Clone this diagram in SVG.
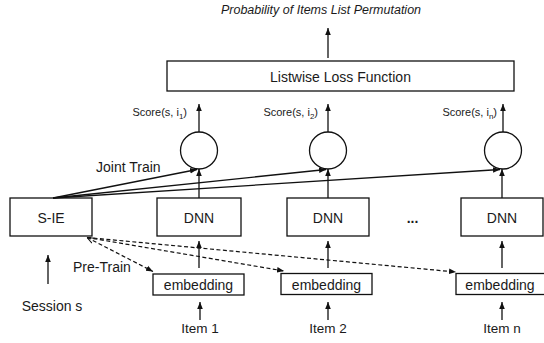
<svg xmlns="http://www.w3.org/2000/svg" width="544" height="343" viewBox="0 0 544 343">
<style>
text{font-family:"Liberation Sans",Arial,sans-serif;fill:#1a1a1a}
.box{fill:#fff;stroke:#111;stroke-width:1.3}
.ln{stroke:#111;stroke-width:1.3;fill:none}
.dash{stroke:#111;stroke-width:1.2;fill:none;stroke-dasharray:4 2.5}
.lbl{font-size:14px}
.sc{font-size:11px}
</style>
<defs>
<marker id="ah" viewBox="0 0 8 8" refX="8" refY="4" markerWidth="7" markerHeight="7" markerUnits="userSpaceOnUse" orient="auto">
<path d="M0,0.8 L8,4 L0,7.2 z" fill="#111"/>
</marker>
<marker id="ahs" viewBox="0 0 8 8" refX="0" refY="4" markerWidth="7" markerHeight="7" markerUnits="userSpaceOnUse" orient="auto">
<path d="M8,0.8 L0,4 L8,7.2" fill="none" stroke="#111" stroke-width="1.2"/>
</marker>
</defs>
<g id="title"><text x="321" y="14" font-size="12.5" font-style="italic" text-anchor="middle">Probability of Items List Permutation</text></g>
<g id="loss"><rect class="box" x="167" y="61" width="347" height="30"/><text class="lbl" x="340.5" y="81.5" font-size="14.5" text-anchor="middle">Listwise Loss Function</text></g>
<g id="circle1"><circle class="ln" cx="199" cy="150.5" r="18.5"/></g>
<g id="circle2"><circle class="ln" cx="328" cy="150.5" r="18.5"/></g>
<g id="circlen"><circle class="ln" cx="503" cy="150.5" r="18.5"/></g>
<g id="sie"><rect class="box" x="10" y="198" width="82" height="38"/><text class="lbl" x="51" y="223" text-anchor="middle">S-IE</text></g>
<g id="dnn1"><rect class="box" x="157" y="198" width="84" height="38"/><text class="lbl" x="199" y="223" text-anchor="middle">DNN</text></g>
<g id="dnn2"><rect class="box" x="287" y="198" width="82" height="38"/><text class="lbl" x="328" y="223" text-anchor="middle">DNN</text></g>
<g id="dnnn"><rect class="box" x="461" y="198" width="82" height="38"/><text class="lbl" x="502" y="223" text-anchor="middle">DNN</text></g>
<g id="ellipsis"><text x="412.5" y="223" font-size="14" font-weight="bold" text-anchor="middle">...</text></g>
<g id="emb1"><rect class="box" x="153" y="274" width="91" height="21"/><text class="lbl" x="198.5" y="290" text-anchor="middle">embedding</text></g>
<g id="emb2"><rect class="box" x="281" y="273.5" width="91" height="21"/><text class="lbl" x="326.5" y="290" text-anchor="middle">embedding</text></g>
<g id="embn"><rect class="box" x="456" y="273.5" width="91" height="21"/><text class="lbl" x="500" y="290" text-anchor="middle">embedding</text></g>
<g id="session"><text class="lbl" x="52" y="311" text-anchor="middle">Session s</text></g>
<g id="item1"><text x="200" y="333" font-size="13.5" text-anchor="middle">Item 1</text></g>
<g id="item2"><text x="328" y="333" font-size="13.5" text-anchor="middle">Item 2</text></g>
<g id="itemn"><text x="502" y="333" font-size="13.5" text-anchor="middle">Item n</text></g>
<g id="labels">
<text class="sc" x="187" y="116" text-anchor="end">Score(s, i<tspan font-size="8" dy="3">1</tspan><tspan dy="-3">)</tspan></text>
<text class="sc" x="318" y="116" text-anchor="end">Score(s, i<tspan font-size="8" dy="3">2</tspan><tspan dy="-3">)</tspan></text>
<text class="sc" x="497" y="116" text-anchor="end">Score(s, i<tspan font-size="8" dy="3">n</tspan><tspan dy="-3">)</tspan></text>
<text class="lbl" x="96" y="171.5">Joint Train</text>
<text class="lbl" x="73" y="272">Pre-Train</text>
</g>
<g id="connectors">
<line class="ln" x1="328" y1="58" x2="328" y2="28" marker-end="url(#ah)"/>
<line class="ln" x1="199" y1="132" x2="199" y2="104" marker-end="url(#ah)"/>
<line class="ln" x1="328" y1="132" x2="328" y2="104" marker-end="url(#ah)"/>
<line class="ln" x1="503" y1="132" x2="503" y2="104" marker-end="url(#ah)"/>
<line class="ln" x1="199" y1="198" x2="199" y2="169" marker-end="url(#ah)"/>
<line class="ln" x1="328" y1="198" x2="328" y2="169" marker-end="url(#ah)"/>
<line class="ln" x1="502" y1="198" x2="502" y2="169" marker-end="url(#ah)"/>
<line class="ln" x1="53" y1="198" x2="197" y2="169.5" marker-end="url(#ah)"/>
<line class="ln" x1="53" y1="198" x2="326" y2="169.5" marker-end="url(#ah)"/>
<line class="ln" x1="53" y1="198" x2="500" y2="169.5" marker-end="url(#ah)"/>
<line class="ln" x1="199" y1="268" x2="199" y2="241" marker-end="url(#ah)"/>
<line class="ln" x1="328" y1="268" x2="328" y2="241" marker-end="url(#ah)"/>
<line class="ln" x1="502" y1="268" x2="502" y2="241" marker-end="url(#ah)"/>
<line class="ln" x1="48" y1="284" x2="48" y2="255" marker-end="url(#ah)"/>
<line class="ln" x1="200" y1="320" x2="200" y2="302" marker-end="url(#ah)"/>
<line class="ln" x1="328" y1="320" x2="328" y2="302" marker-end="url(#ah)"/>
<line class="ln" x1="502" y1="320" x2="502" y2="302" marker-end="url(#ah)"/>
<line class="dash" x1="87" y1="237.5" x2="153" y2="271.5" marker-start="url(#ahs)" marker-end="url(#ah)"/>
<line class="dash" x1="87" y1="237.5" x2="284" y2="271" marker-end="url(#ah)"/>
<line class="dash" x1="87" y1="237.5" x2="456" y2="272" marker-end="url(#ah)"/>
</g>
</svg>
